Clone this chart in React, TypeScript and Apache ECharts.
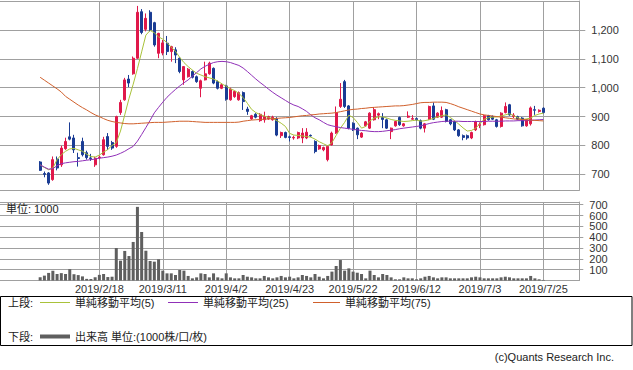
import React, { useEffect, useRef } from "react";
import * as echarts from "echarts";

// Trading days shown on the category axis (JPX calendar)
const DATES = [
  "2019/1/15","2019/1/16","2019/1/17","2019/1/18","2019/1/21","2019/1/22","2019/1/23","2019/1/24","2019/1/25",
  "2019/1/28","2019/1/29","2019/1/30","2019/1/31","2019/2/1","2019/2/4","2019/2/5","2019/2/6","2019/2/7","2019/2/8","2019/2/12","2019/2/13","2019/2/14","2019/2/15","2019/2/18",
  "2019/2/19","2019/2/20","2019/2/21","2019/2/22","2019/2/25","2019/2/26","2019/2/27","2019/2/28","2019/3/1","2019/3/4","2019/3/5","2019/3/6","2019/3/7","2019/3/8","2019/3/11",
  "2019/3/12","2019/3/13","2019/3/14","2019/3/15","2019/3/18","2019/3/19","2019/3/20","2019/3/22","2019/3/25","2019/3/26","2019/3/27","2019/3/28","2019/3/29","2019/4/1","2019/4/2",
  "2019/4/3","2019/4/4","2019/4/5","2019/4/8","2019/4/9","2019/4/10","2019/4/11","2019/4/12","2019/4/15","2019/4/16","2019/4/17","2019/4/18","2019/4/19","2019/4/22","2019/4/23",
  "2019/4/24","2019/4/25","2019/4/26","2019/5/7","2019/5/8","2019/5/9","2019/5/10","2019/5/13","2019/5/14","2019/5/15","2019/5/16","2019/5/17","2019/5/20","2019/5/21","2019/5/22",
  "2019/5/23","2019/5/24","2019/5/27","2019/5/28","2019/5/29","2019/5/30","2019/5/31","2019/6/3","2019/6/4","2019/6/5","2019/6/6","2019/6/7","2019/6/10","2019/6/11","2019/6/12",
  "2019/6/13","2019/6/14","2019/6/17","2019/6/18","2019/6/19","2019/6/20","2019/6/21","2019/6/24","2019/6/25","2019/6/26","2019/6/27","2019/6/28","2019/7/1","2019/7/2","2019/7/3",
  "2019/7/4","2019/7/5","2019/7/8","2019/7/9","2019/7/10","2019/7/11","2019/7/12","2019/7/16","2019/7/17","2019/7/18","2019/7/19","2019/7/22","2019/7/23","2019/7/24","2019/7/25",
  "2019/7/26","2019/7/29","2019/7/30","2019/7/31","2019/8/1","2019/8/2","2019/8/5","2019/8/6",
];

const LABEL_DATES = ["2019/2/18","2019/3/11","2019/4/2","2019/4/23","2019/5/22","2019/6/12","2019/7/3","2019/7/25"];

const FIRST_DAY = "2019/1/28";

const OPEN = [
  743, 703, 705, 682, 753, 733, 789, 830, 826, 758,
  814, 775, 757, 733, 758, 768, 831, 810, 797, 914,
  958, 1030, 1048, 1102, 1263, 1202, 1261, 1225, 1119, 1120,
  1154, 1125, 1131, 1102, 1027, 1038, 1056, 1038, 998, 1027,
  1048, 1067, 1021, 998, 1006, 958, 969, 958, 983, 926,
  892, 908, 886, 889, 892, 889, 892, 834, 845, 830,
  826, 826, 826, 826, 835, 814, 788, 785, 751, 802,
  843, 935, 1021, 937, 877, 860, 829, 868, 860, 889,
  905, 897, 889, 848, 868, 897, 868, 898, 891, 893,
  886, 860, 891, 937, 898, 898, 924, 889, 883, 854,
  834, 834, 826, 854, 870, 872, 903, 900, 889, 866,
  914, 941, 900, 900, 895, 868, 875, 924, 918, 929,
];
const CLOSE = [
  714, 700, 670, 751, 722, 791, 814, 822, 785, 755,
  768, 758, 755, 756, 760, 820, 797, 791, 900, 949,
  1027, 1016, 1102, 1261, 1191, 1240, 1200, 1148, 1188, 1155,
  1125, 1142, 1113, 1056, 1073, 1064, 1036, 1021, 1024, 1048,
  1085, 1016, 998, 1010, 960, 995, 987, 983, 952, 918,
  903, 898, 908, 900, 900, 898, 836, 845, 828, 828,
  828, 845, 843, 846, 833, 779, 800, 793, 797, 843,
  914, 960, 935, 860, 854, 837, 843, 882, 912, 924,
  910, 890, 860, 860, 883, 872, 875, 902, 893, 889,
  860, 875, 935, 891, 912, 921, 883, 875, 854, 834,
  828, 826, 845, 883, 872, 903, 889, 891, 866, 912,
  935, 906, 905, 891, 868, 889, 930, 922, 922, 914,
];
const LOW = [
  712, 690, 664, 678, 714, 726, 785, 818, 774, 727,
  762, 751, 747, 726, 752, 765, 785, 785, 792, 906,
  955, 1002, 1045, 1100, 1185, 1195, 1195, 1142, 1102, 1112,
  1113, 1090, 1085, 1050, 1010, 1035, 1032, 1017, 967, 1025,
  1045, 1012, 994, 995, 955, 955, 965, 955, 923, 906,
  889, 894, 882, 879, 889, 886, 832, 826, 825, 814,
  820, 822, 808, 822, 830, 773, 785, 780, 745, 800,
  840, 930, 930, 856, 850, 822, 826, 865, 857, 886,
  891, 860, 857, 822, 865, 868, 865, 895, 889, 886,
  856, 845, 888, 888, 895, 895, 880, 870, 850, 830,
  818, 820, 822, 850, 860, 869, 886, 888, 862, 862,
  911, 903, 895, 888, 865, 865, 869, 906, 914, 911,
];
const HIGH = [
  746, 710, 708, 762, 762, 799, 827, 880, 837, 775,
  827, 782, 771, 761, 764, 830, 843, 816, 903, 958,
  1034, 1044, 1108, 1283, 1272, 1257, 1268, 1228, 1190, 1165,
  1179, 1145, 1140, 1105, 1075, 1068, 1060, 1042, 1028, 1090,
  1090, 1070, 1025, 1015, 1010, 1000, 990, 987, 987, 934,
  906, 912, 912, 917, 903, 903, 898, 848, 848, 834,
  834, 848, 860, 860, 838, 818, 803, 796, 800, 848,
  935, 1016, 1027, 940, 880, 862, 846, 885, 915, 933,
  914, 912, 893, 862, 886, 900, 878, 918, 905, 897,
  890, 878, 938, 949, 915, 935, 927, 892, 886, 857,
  838, 838, 848, 886, 880, 906, 906, 904, 892, 915,
  949, 944, 912, 903, 898, 892, 935, 937, 925, 932,
];
const MA5 = [
  733, 724, 716, 722, 751, 768, 780, 788, 790, 785,
  780, 770, 762, 760, 767, 777, 786, 800, 810, 850,
  906, 962, 1012, 1066, 1124, 1182, 1198, 1190, 1176, 1168,
  1156, 1140, 1126, 1105, 1087, 1073, 1061, 1050, 1044, 1038,
  1034, 1030, 1023, 1013, 1005, 996, 990, 980, 966, 946,
  925, 914, 907, 902, 897, 893, 886, 877, 866, 842,
  836, 835, 833, 831, 829, 822, 813, 806, 799, 810,
  835, 860, 880, 905, 897, 880, 860, 866, 885, 895,
  899, 899, 895, 890, 887, 885, 883, 884, 886, 888,
  884, 886, 889, 894, 899, 903, 906, 897, 886, 874,
  861, 850, 852, 860, 875, 891, 896, 898, 899, 902,
  906, 910, 903, 896, 890, 892, 895, 904, 909, 912,
];
const MA25 = [
  733, 725, 718, 720, 730, 737, 740, 742, 744, 745,
  747, 749, 751, 753, 756, 758, 760, 763, 767, 773,
  780, 789, 797, 815, 838, 862, 887, 913, 932, 950,
  967, 981, 994, 1006, 1017, 1027, 1040, 1052, 1065, 1074,
  1081, 1087, 1090, 1091, 1090, 1087, 1082, 1077, 1068, 1056,
  1043, 1030, 1018, 1007, 995, 984, 974, 965, 956, 947,
  940, 935, 927, 918, 906, 896, 889, 880, 872, 868,
  865, 862, 860, 858, 856, 854, 852, 851, 849, 848,
  848, 849, 851, 853, 855, 858, 860, 862, 864, 866,
  868, 872, 876, 879, 881, 883, 884, 884, 884, 884,
  883, 883, 883, 883, 883, 883, 884, 884, 884, 884,
  885, 885, 885, 886, 886, 886, 887, 888, 889, 890,
];
const MA75 = [
  1036, 1026, 1016, 1006, 996, 985, 970, 960, 950, 940,
  931, 923, 914, 906, 900, 893, 887, 883, 880, 878,
  876, 875, 875, 876, 877, 878, 879, 880, 880, 880,
  881, 882, 883, 884, 884, 884, 883, 882, 881, 880,
  880, 880, 880, 880, 880, 880, 880, 881, 884, 886,
  888, 889, 890, 891, 892, 893, 894, 895, 896, 897,
  899, 901, 903, 904, 906, 907, 909, 910, 911, 912,
  914, 917, 920, 923, 925, 926, 928, 929, 931, 932,
  933, 934, 935, 936, 937, 937, 938, 940, 942, 945,
  948, 949, 949, 950, 950, 950, 949, 945, 940, 934,
  929, 924, 919, 914, 909, 906, 904, 902, 900, 898,
  896, 894, 892, 891, 890, 889, 888, 887, 886, 885,
];
const VOLUME = [
  30, 45, 70, 90, 60, 68, 60, 105, 58, 50,
  38, 15, 14, 30, 52, 60, 32, 35, 300, 183,
  273, 226, 356, 680, 448, 275, 180, 174, 196, 91,
  66, 66, 51, 97, 91, 42, 20, 29, 66, 60,
  29, 66, 29, 20, 66, 29, 20, 20, 51, 35,
  29, 20, 20, 42, 29, 20, 29, 42, 29, 35,
  20, 29, 51, 42, 29, 60, 35, 20, 42, 82,
  134, 189, 91, 112, 82, 72, 60, 20, 91, 51,
  29, 60, 51, 29, 11, 11, 29, 20, 20, 11,
  20, 35, 42, 29, 20, 29, 29, 20, 20, 20,
  20, 20, 29, 35, 29, 20, 20, 20, 20, 29,
  35, 29, 20, 20, 20, 20, 42, 20, 11, 5,
];

const UP = "#e0184a";
const DOWN = "#1a3c94";
const MA5_COLOR = "#a9c23a";
const MA25_COLOR = "#9030b8";
const MA75_COLOR = "#d0602c";
const VOL_COLOR = "#5f5f5f";
const GRID_COLOR = "#a0a0a0";
const TEXT_COLOR = "#333";
const FONT = '"Liberation Sans", "Noto Sans CJK JP", sans-serif';

export default function App() {
  const ref = useRef<HTMLDivElement>(null);

  useEffect(() => {
    if (!ref.current) return;
    const chart = echarts.init(ref.current, null, { renderer: "svg" });
    const start = DATES.indexOf(FIRST_DAY);
    const pad = (arr: number[]) =>
      DATES.map((_, i) => {
        const k = i - start;
        return k >= 0 && k < arr.length ? arr[k] : "-";
      });
    const candles = DATES.map((_, i) => {
      const k = i - start;
      return k >= 0 && k < OPEN.length
        ? [OPEN[k], CLOSE[k], LOW[k], HIGH[k]]
        : ["-", "-", "-", "-"];
    });
    const isLabel = (_: number, value: string) => LABEL_DATES.includes(value);

    const lineSeries = (name: string, data: number[], color: string) => ({
      name,
      type: "line",
      xAxisIndex: 0,
      yAxisIndex: 0,
      data: pad(data),
      showSymbol: false,
      symbol: "none",
      lineStyle: { color, width: 1 },
      itemStyle: { color },
      z: 3,
    });

    const txt = (text: string, x: number, y: number, align = "left") => ({
      type: "text",
      x,
      y,
      z: 10,
      style: {
        text,
        fill: "#222",
        fontSize: 11,
        fontFamily: FONT,
        align,
        verticalAlign: "middle",
      },
    });
    const seg = (x1: number, x2: number, y: number, color: string, w: number) => ({
      type: "line",
      z: 10,
      shape: { x1, y1: y, x2, y2: y },
      style: { stroke: color, lineWidth: w },
    });

    const option: any = {
      animation: false,
      backgroundColor: "#fff",
      textStyle: { fontFamily: FONT },
      grid: [
        { left: -2.3, top: 1, width: 581.6, height: 189 },
        { left: -2.3, top: 202, width: 581.6, height: 78.5 },
      ],
      xAxis: [
        {
          type: "category",
          gridIndex: 0,
          data: DATES,
          boundaryGap: true,
          axisLine: { show: true, lineStyle: { color: GRID_COLOR } },
          axisTick: { show: false, alignWithLabel: true },
          axisLabel: { show: false },
          splitLine: {
            show: true,
            interval: isLabel,
            alignWithLabel: true,
            lineStyle: { color: GRID_COLOR, width: 1 },
          },
        },
        {
          type: "category",
          gridIndex: 1,
          data: DATES,
          boundaryGap: true,
          axisLine: { show: true, lineStyle: { color: GRID_COLOR } },
          axisTick: { show: false, alignWithLabel: true },
          axisLabel: {
            show: true,
            interval: isLabel,
            fontSize: 11,
            color: TEXT_COLOR,
            margin: 3,
            fontFamily: FONT,
          },
          splitLine: {
            show: true,
            interval: isLabel,
            alignWithLabel: true,
            lineStyle: { color: GRID_COLOR, width: 1 },
          },
        },
      ],
      yAxis: [
        {
          type: "value",
          gridIndex: 0,
          position: "right",
          min: 646,
          max: 1300,
          minInterval: 100,
          maxInterval: 100,
          axisLine: { show: true, lineStyle: { color: GRID_COLOR } },
          axisTick: { show: true, length: 6, lineStyle: { color: GRID_COLOR } },
          axisLabel: {
            showMinLabel: false,
            showMaxLabel: false,
            margin: 12,
            fontSize: 11,
            color: TEXT_COLOR,
            fontFamily: FONT,
            formatter: (v: number) => v.toLocaleString("en-US"),
          },
          splitLine: { show: true, lineStyle: { color: GRID_COLOR } },
        },
        {
          type: "value",
          gridIndex: 1,
          position: "right",
          min: 0,
          max: 725,
          minInterval: 100,
          maxInterval: 100,
          axisLine: { show: true, lineStyle: { color: GRID_COLOR } },
          axisTick: { show: true, length: 4, lineStyle: { color: GRID_COLOR } },
          axisLabel: {
            showMinLabel: false,
            showMaxLabel: false,
            margin: 10,
            fontSize: 11,
            color: TEXT_COLOR,
            fontFamily: FONT,
          },
          splitLine: { show: true, lineStyle: { color: GRID_COLOR } },
        },
      ],
      series: [
        {
          name: "株価",
          type: "candlestick",
          xAxisIndex: 0,
          yAxisIndex: 0,
          data: candles,
          barWidth: 2.5,
          itemStyle: {
            color: UP,
            color0: DOWN,
            borderColor: UP,
            borderColor0: DOWN,
            borderWidth: 1,
          },
          z: 2,
        },
        lineSeries("単純移動平均(5)", MA5, MA5_COLOR),
        lineSeries("単純移動平均(25)", MA25, MA25_COLOR),
        lineSeries("単純移動平均(75)", MA75, MA75_COLOR),
        {
          name: "出来高",
          type: "bar",
          xAxisIndex: 1,
          yAxisIndex: 1,
          data: pad(VOLUME),
          barWidth: 3,
          itemStyle: { color: VOL_COLOR },
        },
      ],
      graphic: [
        txt("単位: 1000", 6, 208.5),
        {
          type: "rect",
          z: 10,
          shape: { x: 0.5, y: 296.5, width: 631.5, height: 49 },
          style: { fill: "none", stroke: "#000", lineWidth: 1 },
        },
        txt("上段:", 8, 302.5),
        seg(40, 70, 302.5, MA5_COLOR, 1),
        txt("単純移動平均(5)", 75, 302.5),
        seg(168, 198, 302.5, MA25_COLOR, 1),
        txt("単純移動平均(25)", 203, 302.5),
        seg(313, 340, 302.5, MA75_COLOR, 1),
        txt("単純移動平均(75)", 345, 302.5),
        txt("下段:", 8, 336.5),
        seg(40, 70, 336.5, VOL_COLOR, 4),
        txt("出来高 単位:(1000株/口/枚)", 75, 336.5),
        txt("(c)Quants Research Inc.", 614, 357, "right"),
      ],
    };
    chart.setOption(option);
    return () => chart.dispose();
  }, []);

  return (
    <div
      ref={ref}
      style={{ position: "absolute", left: 0, top: 0, width: 633, height: 370, background: "#fff" }}
    />
  );
}
